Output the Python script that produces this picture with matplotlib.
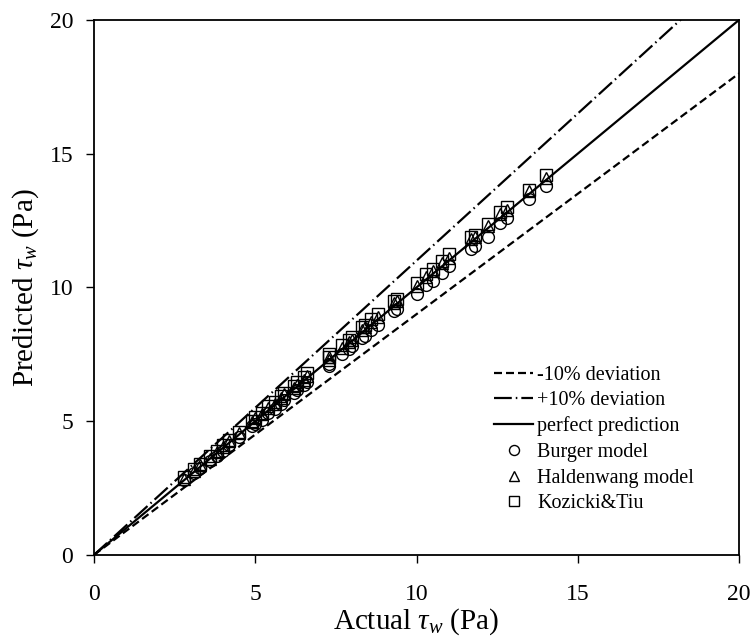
import matplotlib
matplotlib.use("Agg")
import matplotlib.pyplot as plt
import numpy as np

plt.rcParams["font.family"] = "Liberation Serif"
plt.rcParams["mathtext.fontset"] = "custom"
plt.rcParams["mathtext.rm"] = "Liberation Serif"
plt.rcParams["mathtext.it"] = "Liberation Serif:italic"

# actual wall shear stress (Pa)
actual = [2.8, 3.1, 3.3, 3.6, 3.8, 4.0, 4.2, 4.5, 4.9, 5.0, 5.2, 5.4, 5.6, 5.8,
          5.9, 6.2, 6.3, 6.5, 6.6, 7.3, 7.3, 7.7, 7.9, 8.0, 8.3, 8.4, 8.6, 8.8,
          9.3, 9.4, 10.0, 10.3, 10.5, 10.8, 11.0, 11.7, 11.8, 12.2, 12.6, 12.8,
          13.5, 14.0]

# predicted values per model
burger = [2.8, 3.05, 3.25, 3.5, 3.7, 3.9, 4.1, 4.4, 4.8, 4.9, 5.05, 5.3, 5.45, 5.65,
          5.8, 6.05, 6.15, 6.35, 6.45, 7.05, 7.15, 7.5, 7.7, 7.8, 8.1, 8.2, 8.4, 8.6,
          9.1, 9.2, 9.75, 10.1, 10.25, 10.55, 10.8, 11.45, 11.55, 11.9, 12.4, 12.6,
          13.3, 13.8]
haldenwang = [2.85, 3.15, 3.35, 3.6, 3.85, 4.05, 4.25, 4.55, 4.95, 5.1, 5.25, 5.5, 5.65, 5.85,
              6.0, 6.25, 6.35, 6.55, 6.7, 7.3, 7.4, 7.75, 7.95, 8.05, 8.4, 8.5, 8.7, 8.9,
              9.4, 9.5, 10.05, 10.4, 10.6, 10.9, 11.1, 11.8, 11.9, 12.3, 12.75, 12.9,
              13.6, 14.1]
kozicki = [2.9, 3.2, 3.4, 3.7, 3.9, 4.1, 4.3, 4.6, 5.0, 5.15, 5.3, 5.55, 5.7, 5.95,
           6.05, 6.3, 6.45, 6.65, 6.8, 7.4, 7.5, 7.85, 8.05, 8.15, 8.5, 8.6, 8.8, 9.0,
           9.5, 9.55, 10.15, 10.5, 10.7, 11.0, 11.25, 11.9, 11.95, 12.35, 12.8, 13.0,
           13.65, 14.2]

line_x = np.array([0, 20])

fig = plt.figure(figsize=(7.55, 6.4), dpi=100)
ax = fig.add_axes([0.1245, 0.133, 0.8545, 0.836])

ax.plot(line_x, 0.9 * line_x, color="black", lw=1.6, dashes=(3.6, 1.8), label="-10% deviation")
ax.plot(line_x, 1.1 * line_x, color="black", lw=1.6, dashes=(8, 1.8, 0.7, 1.8), label="+10% deviation")
ax.plot(line_x, line_x, color="black", lw=1.6, label="perfect prediction")

ax.plot(actual, burger, "o", mfc="none", mec="black", ms=8.5, mew=1.0, label="Burger model")
ax.plot(actual, haldenwang, "^", mfc="none", mec="black", ms=8.5, mew=1.0, label="Haldenwang model")
ax.plot(actual, kozicki, "s", mfc="none", mec="black", ms=8.5, mew=1.0, label="Kozicki&Tiu")

ax.set_xlim(0, 20)
ax.set_ylim(0, 20)
ax.set_xticks([0, 5, 10, 15, 20])
ax.set_yticks([0, 5, 10, 15, 20])
ax.tick_params(direction="out", length=6, width=1, labelsize=17)
ax.tick_params(axis="x", pad=15)
ax.tick_params(axis="y", pad=9)
for s in ax.spines.values():
    s.set_linewidth(1.3)

ax.set_xlabel(r"Actual $\tau_w$ (Pa)", fontsize=21, labelpad=1)
ax.set_ylabel(r"Predicted $\tau_w$ (Pa)", fontsize=21, labelpad=6)

ax.legend(loc="upper left", bbox_to_anchor=(0.62, 0.354), frameon=False, fontsize=14.5,
          handlelength=1.95, handletextpad=0.2, labelspacing=0.32, borderaxespad=0,
          borderpad=0, markerscale=0.85)

fig.savefig("out.png", dpi=100)
